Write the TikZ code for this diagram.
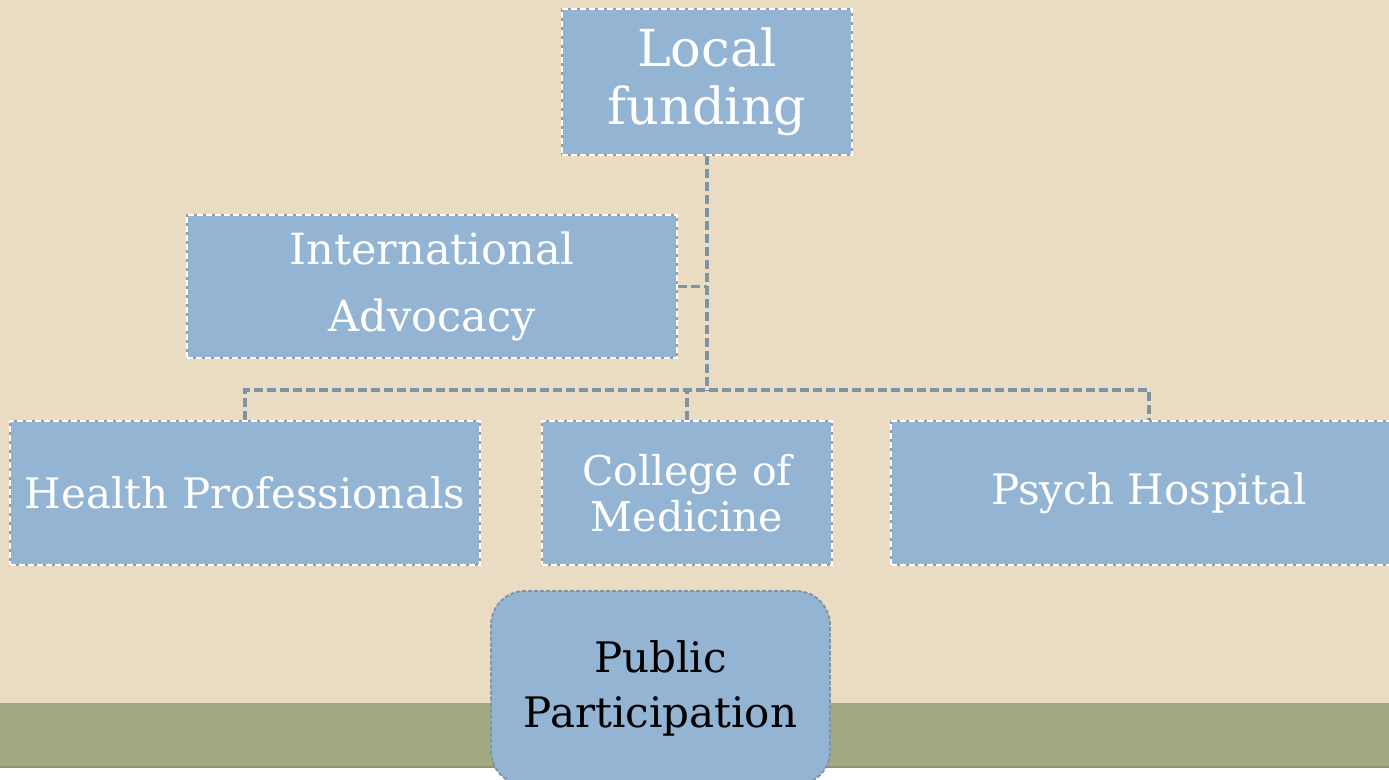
\documentclass[tikz,border=0pt]{standalone}
\usepackage{fontspec}
\setmainfont{DejaVu Serif}
\usetikzlibrary{positioning}
\definecolor{bgbeige}{HTML}{EADCC2}
\definecolor{bandgreen}{HTML}{A3AA81}
\definecolor{bandedge}{HTML}{8E9470}
\definecolor{boxblue}{HTML}{94B4D3}
\definecolor{boxedge}{HTML}{9A9A9A}
\definecolor{linkgray}{HTML}{7F93A6}

\tikzset{
	unitbox/.style={rectangle, fill=boxblue, draw=boxedge, line width=1.8pt, text=white, align=center, inner sep=0pt,
		postaction={draw=white, line width=1.8pt, dash pattern=on 6pt off 3pt}},
	roundbox/.style={rectangle, rounded corners=34pt, fill=boxblue, draw=linkgray, line width=1.8pt, dash pattern=on 4pt off 2pt,
		text=black, align=center, inner sep=0pt},
	link/.style={draw=linkgray, line width=3.5pt, dash pattern=on 9pt off 4pt},
}

\begin{document}
\begin{tikzpicture}[x=1pt, y=-1pt]
				\clip (0,0) rectangle (1389,779);
				% background and band
				\fill[bgbeige] (0,0) rectangle (1389,779);
				\fill[bandgreen] (0,703) rectangle (1389,767);
				\draw[bandedge, line width=1.5pt] (0,767) -- (1389,767);
				\fill[white] (0,768) rectangle (1389,779);

				% boxes
				\node [unitbox, minimum width=290pt, minimum height=146pt, font=\fontsize{51}{58}\selectfont] (funding) at (707,82) {Local\\funding};
				\node [unitbox, minimum width=490pt, minimum height=143pt, font=\fontsize{43}{67}\selectfont] (advocacy) at (432,286.5) {International\\Advocacy};
				\node [unitbox, minimum width=470pt, minimum height=144pt, font=\fontsize{42}{45}\selectfont] (health) at (245,493) {Health Professionals};
				\node [unitbox, minimum width=290pt, minimum height=144pt, font=\fontsize{41}{46}\selectfont] (college) at (687,493) {College of\\Medicine};
				\node [unitbox, minimum width=516pt, minimum height=144pt, font=\fontsize{42}{45}\selectfont] (psych) at (1149,493) {Psych Hospital};
				\node [roundbox, minimum width=339pt, minimum height=194pt, font=\fontsize{42}{55}\selectfont] (public) at (660.5,688) {Public\\Participation};

				% connectors
				\coordinate (bus) at (707,390);
				\draw [link] (funding) -- (bus);
				\draw [link] (advocacy.east) -- (advocacy.east -| bus);
				\draw [link] (health.north) |- (bus) -| (psych.north);
				\draw [link] (college.north) -- (college.north |- bus);
\end{tikzpicture}
\end{document}
